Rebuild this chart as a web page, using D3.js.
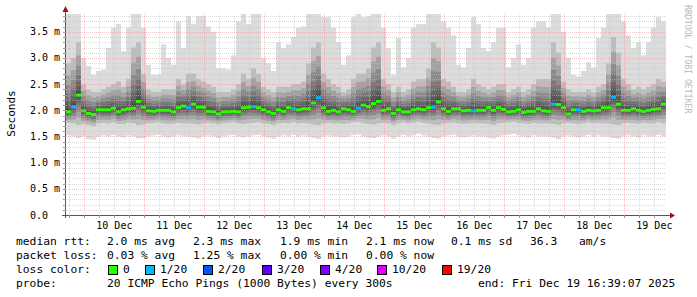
<!DOCTYPE html>
<html>
<head>
<meta charset="utf-8">
<script src="https://cdn.jsdelivr.net/npm/d3@7"></script>
<style>
body { margin: 0; background: #fff; }
svg { display: block; font-family: "DejaVu Sans Mono", monospace; }
text { white-space: pre; }
</style>
</head>
<body>
<svg id="chart"></svg>
<script>
// one value per 2 hour bucket, 120 buckets (Dec 9 16:39 -> Dec 19 16:39)
const median = [
    1.97, 2.06, 2.29, 1.99, 1.94, 1.92, 2.01, 2.01, 2.01, 2.04, 1.97, 2.01, 2.03, 2.04, 2.17, 2.06, 1.99, 1.98, 2.00, 2.00, 2.00, 1.97, 2.05, 2.08,
    2.05, 2.12, 2.06, 2.06, 1.98, 1.97, 1.93, 1.97, 1.97, 1.98, 1.97, 2.05, 2.06, 2.07, 2.05, 2.01, 1.97, 1.94, 2.01, 1.98, 2.05, 2.03, 2.01, 2.03,
    2.03, 2.14, 2.24, 2.05, 1.98, 2.00, 1.97, 2.03, 2.01, 1.98, 2.04, 2.10, 2.07, 2.13, 2.17, 2.00, 2.03, 1.94, 2.01, 1.97, 1.97, 2.01, 2.03, 2.01,
    2.05, 2.06, 2.16, 2.03, 1.98, 2.03, 2.03, 1.99, 2.00, 1.99, 2.00, 2.00, 2.05, 2.00, 2.05, 2.02, 1.97, 1.98, 2.01, 1.96, 1.98, 1.98, 2.03, 1.99,
    1.98, 2.12, 2.11, 2.05, 1.93, 2.01, 2.01, 1.98, 2.00, 1.99, 2.00, 2.05, 2.05, 2.25, 2.12, 2.00, 2.00, 2.03, 2.00, 1.98, 2.00, 2.02, 2.03, 2.12
];
// lost pings out of 20
const loss = [
    0, 1, 0, 0, 0, 0, 0, 0, 0, 0, 0, 0, 0, 0, 0, 0, 0, 0, 0, 0, 0, 0, 0, 0,
    1, 0, 0, 0, 0, 0, 0, 0, 0, 0, 0, 0, 0, 1, 0, 0, 0, 0, 0, 0, 0, 1, 0, 0,
    0, 0, 1, 0, 0, 0, 0, 0, 0, 0, 1, 0, 0, 0, 0, 0, 0, 0, 0, 0, 0, 0, 0, 0,
    0, 1, 0, 0, 0, 0, 0, 0, 0, 1, 0, 0, 0, 0, 0, 0, 0, 0, 0, 0, 0, 0, 0, 0,
    0, 1, 0, 0, 0, 0, 1, 0, 0, 0, 0, 0, 0, 1, 0, 0, 0, 0, 0, 0, 0, 0, 0, 0
];
// slowest ping of the bucket
const smokeMax = [
    3.84, 3.84, 3.84, 3.00, 2.85, 2.68, 2.75, 2.78, 3.19, 3.58, 3.65, 3.13, 3.58, 3.84, 3.84, 3.58, 2.87, 2.68, 2.68, 3.26, 3.00, 2.87, 3.70, 3.19,
    3.80, 3.65, 3.80, 3.80, 3.60, 3.50, 2.80, 2.80, 2.78, 3.05, 3.70, 3.84, 3.65, 3.84, 3.84, 3.00, 2.90, 2.75, 3.30, 3.19, 3.26, 3.40, 3.58, 3.60,
    3.84, 3.84, 3.84, 3.78, 3.78, 3.58, 3.30, 2.87, 3.05, 3.78, 3.84, 3.78, 3.80, 3.84, 3.84, 3.58, 3.19, 2.68, 3.38, 2.82, 3.00, 3.58, 3.65, 3.65,
    3.84, 3.84, 3.84, 3.70, 3.58, 3.43, 2.87, 2.82, 3.19, 3.78, 3.65, 3.19, 3.13, 3.30, 3.58, 3.58, 2.82, 3.00, 3.26, 2.87, 3.00, 3.58, 3.70, 3.70,
    3.58, 3.84, 3.84, 3.50, 3.00, 2.68, 2.65, 2.75, 2.92, 2.82, 3.38, 3.58, 3.84, 3.84, 3.84, 3.70, 3.43, 3.19, 3.30, 3.05, 3.30, 3.58, 3.78, 3.70
];
// upper quartile-ish ping
const smokeUp = [
    2.90, 3.00, 3.30, 2.50, 2.40, 2.35, 2.35, 2.40, 2.45, 2.50, 2.55, 2.45, 2.60, 3.20, 3.30, 2.70, 2.40, 2.35, 2.35, 2.40, 2.40, 2.40, 2.60, 2.50,
    2.70, 2.70, 2.60, 2.55, 2.50, 2.45, 2.35, 2.35, 2.35, 2.40, 2.50, 2.70, 2.60, 2.80, 2.70, 2.45, 2.40, 2.35, 2.45, 2.45, 2.45, 2.50, 2.50, 2.55,
    2.90, 3.20, 3.30, 2.70, 2.60, 2.50, 2.45, 2.35, 2.40, 2.60, 2.70, 2.70, 2.80, 3.20, 3.30, 2.60, 2.50, 2.35, 2.45, 2.35, 2.40, 2.55, 2.60, 2.60,
    2.80, 3.30, 3.20, 2.60, 2.55, 2.45, 2.35, 2.35, 2.40, 2.60, 2.50, 2.45, 2.40, 2.45, 2.50, 2.50, 2.35, 2.40, 2.45, 2.35, 2.40, 2.50, 2.60, 2.60,
    2.60, 3.30, 3.10, 2.55, 2.40, 2.35, 2.35, 2.35, 2.40, 2.35, 2.45, 2.50, 2.90, 3.40, 3.10, 2.60, 2.50, 2.40, 2.45, 2.40, 2.45, 2.50, 2.60, 2.55
];
// lower quartile-ish ping
const smokeDown = [
    1.76, 1.75, 1.72, 1.74, 1.72, 1.70, 1.75, 1.76, 1.75, 1.77, 1.74, 1.74, 1.76, 1.75, 1.72, 1.73, 1.75, 1.76, 1.77, 1.75, 1.74, 1.75, 1.76, 1.75,
    1.75, 1.74, 1.73, 1.75, 1.76, 1.75, 1.73, 1.75, 1.76, 1.77, 1.75, 1.74, 1.75, 1.76, 1.77, 1.75, 1.74, 1.72, 1.75, 1.76, 1.75, 1.77, 1.75, 1.76,
    1.75, 1.73, 1.72, 1.75, 1.76, 1.75, 1.75, 1.74, 1.75, 1.77, 1.78, 1.75, 1.74, 1.73, 1.75, 1.76, 1.75, 1.72, 1.75, 1.77, 1.75, 1.76, 1.78, 1.76,
    1.75, 1.73, 1.72, 1.75, 1.76, 1.77, 1.75, 1.74, 1.75, 1.76, 1.75, 1.75, 1.74, 1.72, 1.75, 1.76, 1.77, 1.78, 1.76, 1.75, 1.74, 1.76, 1.75, 1.75,
    1.75, 1.74, 1.72, 1.75, 1.76, 1.75, 1.74, 1.75, 1.77, 1.75, 1.76, 1.75, 1.75, 1.73, 1.72, 1.75, 1.76, 1.75, 1.74, 1.76, 1.75, 1.75, 1.77, 1.75
];
// fastest ping of the bucket
const smokeMin = [
    1.52, 1.50, 1.47, 1.50, 1.45, 1.44, 1.50, 1.52, 1.50, 1.53, 1.50, 1.48, 1.52, 1.50, 1.46, 1.47, 1.50, 1.52, 1.53, 1.50, 1.48, 1.50, 1.52, 1.50,
    1.50, 1.48, 1.46, 1.50, 1.52, 1.50, 1.47, 1.50, 1.52, 1.53, 1.50, 1.48, 1.50, 1.52, 1.53, 1.50, 1.48, 1.46, 1.50, 1.52, 1.50, 1.53, 1.50, 1.52,
    1.50, 1.47, 1.45, 1.50, 1.52, 1.50, 1.50, 1.48, 1.50, 1.53, 1.54, 1.50, 1.48, 1.47, 1.50, 1.52, 1.50, 1.46, 1.50, 1.53, 1.50, 1.52, 1.55, 1.52,
    1.50, 1.47, 1.46, 1.50, 1.52, 1.53, 1.50, 1.48, 1.50, 1.52, 1.50, 1.50, 1.48, 1.46, 1.50, 1.52, 1.53, 1.55, 1.52, 1.50, 1.48, 1.52, 1.50, 1.50,
    1.50, 1.48, 1.45, 1.50, 1.52, 1.50, 1.48, 1.50, 1.53, 1.50, 1.52, 1.50, 1.50, 1.47, 1.46, 1.50, 1.52, 1.50, 1.48, 1.52, 1.50, 1.50, 1.53, 1.50
];

const yTicks = [0, 0.5, 1.0, 1.5, 2.0, 2.5, 3.0, 3.5];
const yTickLabels = ['0.0', '0.5 m', '1.0 m', '1.5 m', '2.0 m', '2.5 m', '3.0 m', '3.5 m'];
const dayLabels = ['10 Dec', '11 Dec', '12 Dec', '13 Dec', '14 Dec', '15 Dec', '16 Dec', '17 Dec', '18 Dec', '19 Dec'];

const lossLabels = ['0', '1/20', '2/20', '3/20', '4/20', '10/20', '19/20'];
const lossColors = ['#26ff00', '#00b8ff', '#0059ff', '#5e00ff', '#7e00ff', '#dd00ff', '#ff0000'];
const lossLimits = [0, 1, 2, 3, 4, 10, 19];

const legendRows = [
    [['median rtt:', 16], ['2.0 ms avg', 107], ['2.3 ms max', 193], ['1.9 ms min', 280], ['2.1 ms now', 366], ['0.1 ms sd', 451], ['36.3', 530], ['am/s', 579]],
    [['packet loss:', 16], ['0.03 % avg', 107], ['1.25 % max', 193], ['0.00 % min', 280], ['0.00 % now', 366]],
    [['loss color:', 16]],
    [['probe:', 16], ['20 ICMP Echo Pings (1000 Bytes) every 300s', 107], ['end: Fri Dec 19 16:39:07 2025', 478]]
];

const width = 697;
const height = 297;
const plotLeft = 66, plotRight = 666, plotTop = 14, plotBottom = 215;

const start = new Date(2025, 11, 9, 16, 39, 7);
const end = new Date(2025, 11, 19, 16, 39, 7);
const step = 2 * 3600 * 1000;

const svg = d3.select('#chart')
    .attr('width', width)
    .attr('height', height);

const x = d3.scaleTime().domain([start, end]).range([plotLeft, plotRight]);
const y = d3.scaleLinear().domain([0, 3.84]).range([plotBottom, plotTop]);

const cols = median.map((m, i) => ({
    t0: new Date(+start + i * step),
    t1: new Date(+start + (i + 1) * step),
    med: m,
    loss: loss[i],
    max: smokeMax[i],
    up: smokeUp[i],
    down: smokeDown[i],
    min: smokeMin[i]
}));

// smoke: light outer band, then stacked translucent bands toward the median
const smoke = svg.append('g');
smoke.selectAll('.outer')
    .data(cols)
    .enter().append('rect')
    .attr('x', d => x(d.t0))
    .attr('width', d => x(d.t1) - x(d.t0))
    .attr('y', d => y(d.max))
    .attr('height', d => y(d.min) - y(d.max))
    .attr('fill', '#dcdcdc');

const shades = [1, 0.75, 0.55, 0.38, 0.25, 0.15, 0.07];
shades.forEach(f => {
    smoke.append('g').selectAll('rect')
        .data(cols)
        .enter().append('rect')
        .attr('x', d => x(d.t0))
        .attr('width', d => x(d.t1) - x(d.t0))
        .attr('y', d => y(d.med + f * (d.up - d.med)))
        .attr('height', d => y(d.med - f * (d.med - d.down)) - y(d.med + f * (d.up - d.med)))
        .attr('fill', '#000')
        .attr('fill-opacity', 0.14);
});

// grid
const grid = svg.append('g');
const minorY = d3.range(1, 39).map(v => v / 10).filter(v => Math.round(v * 10) % 5 !== 0);
const majorY = yTicks.slice(1);
grid.selectAll('.hmin')
    .data(minorY)
    .enter().append('line')
    .attr('x1', plotLeft).attr('x2', plotRight)
    .attr('y1', d => Math.round(y(d)) + 0.5).attr('y2', d => Math.round(y(d)) + 0.5)
    .attr('stroke', '#c0c0c0').attr('stroke-opacity', 0.55)
    .attr('stroke-dasharray', '1,1');

const days = d3.timeDay.range(start, end);
const sixHours = d3.timeHour.every(6).range(start, end).filter(d => d.getHours() !== 0);
grid.selectAll('.vmin')
    .data(sixHours)
    .enter().append('line')
    .attr('x1', d => Math.round(x(d)) + 0.5).attr('x2', d => Math.round(x(d)) + 0.5)
    .attr('y1', plotTop).attr('y2', plotBottom)
    .attr('stroke', '#c0c0c0').attr('stroke-opacity', 0.55)
    .attr('stroke-dasharray', '1,1');

grid.selectAll('.hmaj')
    .data(majorY)
    .enter().append('line')
    .attr('x1', plotLeft).attr('x2', plotRight)
    .attr('y1', d => Math.round(y(d)) + 0.5).attr('y2', d => Math.round(y(d)) + 0.5)
    .attr('stroke', '#e89090').attr('stroke-opacity', 0.5)
    .attr('stroke-dasharray', '1,1');

grid.selectAll('.vmaj')
    .data(days)
    .enter().append('line')
    .attr('x1', d => Math.round(x(d)) + 0.5).attr('x2', d => Math.round(x(d)) + 0.5)
    .attr('y1', plotTop).attr('y2', plotBottom)
    .attr('stroke', '#e89090').attr('stroke-opacity', 0.5)
    .attr('stroke-dasharray', '1,1');

// median, coloured by loss
function lossColor(n) {
    let c = lossColors[0];
    lossLimits.forEach((lim, i) => { if (n >= lim) c = lossColors[i]; });
    return c;
}

svg.append('g').selectAll('rect')
    .data(cols)
    .enter().append('rect')
    .attr('x', d => x(d.t0))
    .attr('width', d => x(d.t1) - x(d.t0))
    .attr('y', d => y(d.med) - 1.5)
    .attr('height', 3)
    .attr('fill', d => lossColor(d.loss));

// axes
const axis = svg.append('g');
axis.append('line')
    .attr('x1', plotLeft - 0.5).attr('x2', plotLeft - 0.5)
    .attr('y1', plotBottom + 3).attr('y2', 9)
    .attr('stroke', '#555');
axis.append('line')
    .attr('x1', plotLeft - 4).attr('x2', plotRight + 4)
    .attr('y1', plotBottom + 0.5).attr('y2', plotBottom + 0.5)
    .attr('stroke', '#555');
axis.append('path')
    .attr('d', `M${plotLeft - 3.5},12 L${plotLeft - 0.5},6 L${plotLeft + 2.5},12 Z`)
    .attr('fill', '#a01010');
axis.append('path')
    .attr('d', `M${plotRight + 4},${plotBottom - 2.5} L${plotRight + 9},${plotBottom + 0.5} L${plotRight + 4},${plotBottom + 3.5} Z`)
    .attr('fill', '#a01010');

axis.selectAll('.ytick')
    .data(minorY.concat(majorY))
    .enter().append('line')
    .attr('x1', plotLeft - 3).attr('x2', plotLeft)
    .attr('y1', d => Math.round(y(d)) + 0.5).attr('y2', d => Math.round(y(d)) + 0.5)
    .attr('stroke', '#999');
axis.selectAll('.xtick')
    .data(sixHours.concat(days))
    .enter().append('line')
    .attr('x1', d => Math.round(x(d)) + 0.5).attr('x2', d => Math.round(x(d)) + 0.5)
    .attr('y1', plotBottom).attr('y2', plotBottom + 3)
    .attr('stroke', '#999');

axis.selectAll('.ylabel')
    .data(yTicks)
    .enter().append('text')
    .attr('x', 30)
    .attr('y', d => y(d) + 3.5)
    .attr('font-size', 10)
    .attr('fill', '#000')
    .text((d, i) => yTickLabels[i]);

axis.selectAll('.xlabel')
    .data(dayLabels)
    .enter().append('text')
    .attr('x', (d, i) => x(d3.timeHour.offset(days[i], 12)))
    .attr('y', 228.5)
    .attr('text-anchor', 'middle')
    .attr('font-size', 10)
    .attr('fill', '#000')
    .text(d => d);

svg.append('text')
    .attr('transform', 'translate(14.5,113.5) rotate(-90)')
    .attr('text-anchor', 'middle')
    .attr('font-size', 11)
    .attr('fill', '#000')
    .text('Seconds');

svg.append('text')
    .attr('transform', 'translate(685,5) rotate(90)')
    .attr('font-size', 8.2)
    .attr('fill', '#b8b8b8')
    .text('RRDTOOL / TOBI OETIKER');

// legend
const legend = svg.append('g').attr('font-size', 11.3).attr('fill', '#000');
legendRows.forEach((row, r) => {
    row.forEach(([txt, px]) => {
        legend.append('text')
            .attr('x', px)
            .attr('y', 245 + r * 14)
            .text(txt);
    });
});

const boxX = [108, 145, 203, 262, 320, 377, 442];
lossLabels.forEach((lab, i) => {
    legend.append('rect')
        .attr('x', boxX[i] + 0.5).attr('y', 265.5)
        .attr('width', 9).attr('height', 9)
        .attr('fill', lossColors[i])
        .attr('stroke', '#000');
    legend.append('text')
        .attr('x', boxX[i] + 15)
        .attr('y', 273)
        .text(lab);
});
</script>
</body>
</html>
